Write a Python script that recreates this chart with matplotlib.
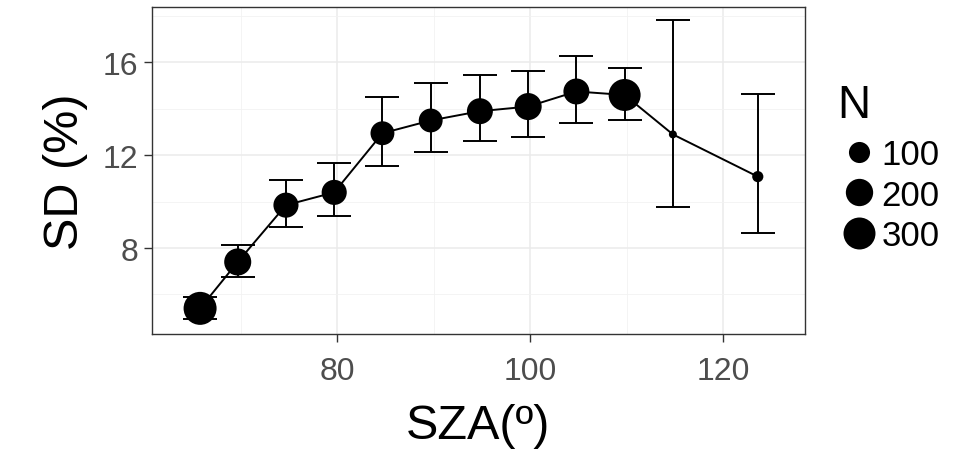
import numpy as np
import matplotlib
matplotlib.use('Agg')
import matplotlib.pyplot as plt
from matplotlib.lines import Line2D

plt.rcParams['font.family'] = ['Liberation Sans', 'DejaVu Sans']

#%% Data
sza = [65.8, 69.7, 74.7, 79.7, 84.7, 89.7, 94.8, 99.8, 104.8, 109.8, 114.8, 123.6]
sd = [5.4, 7.4, 9.85, 10.4, 12.95, 13.5, 13.9, 14.1, 14.75, 14.6, 12.9, 11.08]
sd_lo = [4.95, 6.75, 8.9, 9.4, 11.55, 12.15, 12.6, 12.8, 13.4, 13.5, 9.75, 8.65]
sd_hi = [5.9, 8.15, 10.95, 11.65, 14.5, 15.1, 15.45, 15.65, 16.3, 15.75, 17.85, 14.65]
n_obs = [325, 195, 160, 160, 140, 140, 175, 195, 175, 300, 15, 20]
legend_n = [100, 200, 300]

#%% Size scale (diameter grows with sqrt of N, like ggplot's area scale)
def diam_pt(n):
    n = np.asarray(n, dtype=float)
    d_px = 8 + 25 * np.sqrt(np.clip((n - 15) / 310., 0, None))
    return d_px * 0.72

fig = plt.figure(figsize=(9.55, 4.6), dpi=100)
ax = fig.add_axes([0.159, 0.272, 0.684, 0.711])

sza = np.array(sza)
sd = np.array(sd)
yerr = np.vstack([sd - np.array(sd_lo), np.array(sd_hi) - sd])
ax.errorbar(sza, sd, yerr=yerr, fmt='none', ecolor='black', elinewidth=1.4,
            capsize=12.2, capthick=1.4, zorder=3)
ax.plot(sza, sd, color='black', lw=1.4, zorder=4)
ax.scatter(sza, sd, s=diam_pt(n_obs)**2, color='black', zorder=5, linewidths=0)

ax.set_xlim(60.8, 128.5)
ax.set_ylim(4.3, 18.4)
ax.set_xticks([80, 100, 120])
ax.set_yticks([8, 12, 16])
ax.set_xticks([70, 90, 110], minor=True)
ax.set_yticks([6, 10, 14, 18], minor=True)
ax.grid(True, which='major', color='#EBEBEB', lw=1.1, zorder=0)
ax.grid(True, which='minor', color='#F2F2F2', lw=0.6, zorder=0)
ax.set_axisbelow(True)
ax.tick_params(which='major', length=6, width=1, color='#333333',
               labelcolor='#4D4D4D', labelsize=23)
ax.tick_params(axis='x', which='major', pad=10)
ax.tick_params(axis='y', which='major', pad=4)
ax.tick_params(which='minor', length=0)
for sp in ax.spines.values():
    sp.set_color('#333333')
    sp.set_linewidth(1)

ax.set_xlabel('SZA(º)', fontsize=35, labelpad=12)
ax.set_ylabel('SD (%)', fontsize=35, labelpad=10)

#%% Legend (title drawn as separate text to get the ggplot spacing)
fig.text(0.877, 0.770, 'N', fontsize=33, ha='left', va='center')
handles = [Line2D([], [], ls='none', marker='o', color='black',
                  markersize=float(diam_pt(v)), markeredgewidth=0)
           for v in legend_n]
leg = fig.legend(handles, [str(v) for v in legend_n],
                 loc='upper left', bbox_to_anchor=(0.885, 0.698),
                 frameon=False, fontsize=25, borderpad=0,
                 handlelength=0.8, handletextpad=0.25, labelspacing=0.22,
                 borderaxespad=0)

fig.savefig('out.png', dpi=100)
